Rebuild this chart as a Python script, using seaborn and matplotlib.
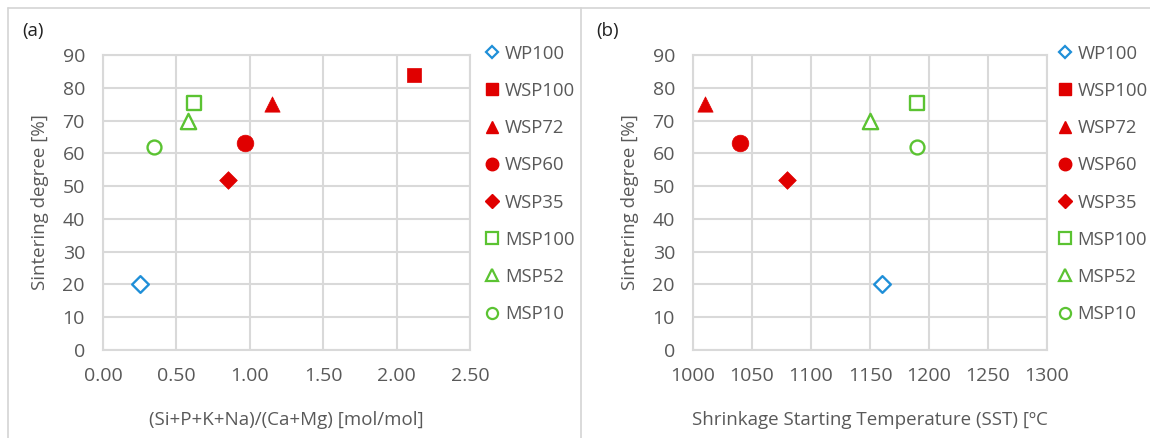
import numpy as np
import pandas as pd
import matplotlib
matplotlib.use("Agg")
import matplotlib.pyplot as plt
from matplotlib.lines import Line2D
import seaborn as sns

# ---- data ----
samples = ["WP100", "WSP100", "WSP72", "WSP60", "WSP35", "MSP100", "MSP52", "MSP10"]
ratio = [0.25, 2.12, 1.15, 0.97, 0.85, 0.62, 0.58, 0.35]          # (Si+P+K+Na)/(Ca+Mg)
sst = [1160, np.nan, 1010, 1040, 1080, 1190, 1150, 1190]          # Shrinkage Starting Temperature
sintering = [20, 84, 75, 63, 52, 75.5, 70, 62]                     # Sintering degree [%]

df = pd.DataFrame({"sample": samples, "ratio": ratio, "sst": sst, "sint": sintering})

BLUE, RED, GREEN = "#1F8FD8", "#E00000", "#5BC332"
style = {
    "WP100":  dict(marker="D", color=BLUE,  filled=False, ms=8.5, lms=6.5),
    "WSP100": dict(marker="s", color=RED,   filled=True,  ms=10.5, lms=8.5),
    "WSP72":  dict(marker="^", color=RED,   filled=True,  ms=11,  lms=9),
    "WSP60":  dict(marker="o", color=RED,   filled=True,  ms=12,  lms=9),
    "WSP35":  dict(marker="D", color=RED,   filled=True,  ms=9,   lms=7),
    "MSP100": dict(marker="s", color=GREEN, filled=False, ms=9.5, lms=8),
    "MSP52":  dict(marker="^", color=GREEN, filled=False, ms=11,  lms=9),
    "MSP10":  dict(marker="o", color=GREEN, filled=False, ms=10,  lms=8),
}

sns.set_theme(style="white")
plt.rcParams["font.family"] = ["Open Sans", "DejaVu Sans"]
TXT = "#595959"
GRID = "#D9D9D9"
FS = 13.5

fig = plt.figure(figsize=(11.5, 4.38), dpi=100)
W, H = 1150, 438

def fx(px): return px / W
def fy(py): return 1 - py / H

axA = fig.add_axes([fx(103), fy(350), fx(470) - fx(103), fy(55) - fy(350)])
axB = fig.add_axes([fx(693), fy(350), fx(1047) - fx(693), fy(55) - fy(350)])

def draw(ax, xcol, leg_x):
    for s in samples:
        st = style[s]
        sub = df[df["sample"] == s].dropna(subset=[xcol])
        if sub.empty:
            continue
        if st["filled"]:
            kw = dict(facecolor=st["color"], edgecolor=st["color"], linewidth=0.5)
        else:
            kw = dict(facecolor="white", edgecolor=st["color"], linewidth=1.7)
        sns.scatterplot(data=sub, x=xcol, y="sint", ax=ax, marker=st["marker"],
                        s=st["ms"] ** 2, zorder=3, legend=False, **kw)
    ax.set_ylim(0, 90)
    ax.set_yticks(np.arange(0, 91, 10))
    ax.grid(True, color=GRID, linewidth=1.5)
    ax.set_axisbelow(True)
    for sp in ax.spines.values():
        sp.set_color(GRID)
        sp.set_linewidth(1.5)
    ax.tick_params(axis="both", colors=TXT, labelsize=14, length=0)
    ax.tick_params(axis="y", pad=13)
    ax.tick_params(axis="x", pad=12)
    ax.set_ylabel("Sintering degree [%]", color=TXT, fontsize=FS, labelpad=10)
    handles = []
    for s in samples:
        st = style[s]
        if st["filled"]:
            h = Line2D([], [], linestyle="none", marker=st["marker"], markersize=st["lms"],
                       markerfacecolor=st["color"], markeredgecolor=st["color"])
        else:
            h = Line2D([], [], linestyle="none", marker=st["marker"], markersize=st["lms"],
                       markerfacecolor="white", markeredgecolor=st["color"], markeredgewidth=1.6)
        handles.append(h)
    leg = ax.legend(handles, samples, loc="upper left", bbox_to_anchor=(leg_x, 1.06),
                    frameon=False, fontsize=13.3, labelspacing=1.04, handlelength=0.8,
                    handletextpad=0.3, borderaxespad=0)
    for t in leg.get_texts():
        t.set_color(TXT)

draw(axA, "ratio", 1.02)
axA.set_xlim(0, 2.5)
axA.set_xticks(np.arange(0, 2.51, 0.5))
axA.set_xticklabels([f"{v:.2f}" for v in np.arange(0, 2.51, 0.5)])
axA.set_xlabel("(Si+P+K+Na)/(Ca+Mg) [mol/mol]", color=TXT, fontsize=FS, labelpad=19)

draw(axB, "sst", 1.008)
axB.set_xlim(1000, 1300)
axB.set_xticks(np.arange(1000, 1301, 50))
axB.set_xlabel("Shrinkage Starting Temperature (SST) [ºC", color=TXT, fontsize=FS, labelpad=19)

fig.text(fx(22), fy(31), "(a)", fontsize=FS, color="#222222", va="center", ha="left")
fig.text(fx(596), fy(31), "(b)", fontsize=FS, color="#222222", va="center", ha="left")

# panel frame lines
BORDER = "#D4D4D4"
fig.add_artist(Line2D([fx(8), 1], [fy(8), fy(8)], transform=fig.transFigure, color=BORDER, lw=1.2))
fig.add_artist(Line2D([fx(8), fx(8)], [0, fy(8)], transform=fig.transFigure, color=BORDER, lw=1.2))
fig.add_artist(Line2D([fx(581), fx(581)], [0, fy(8)], transform=fig.transFigure, color=BORDER, lw=1.2))

fig.savefig("out.png", dpi=100, facecolor="white")
